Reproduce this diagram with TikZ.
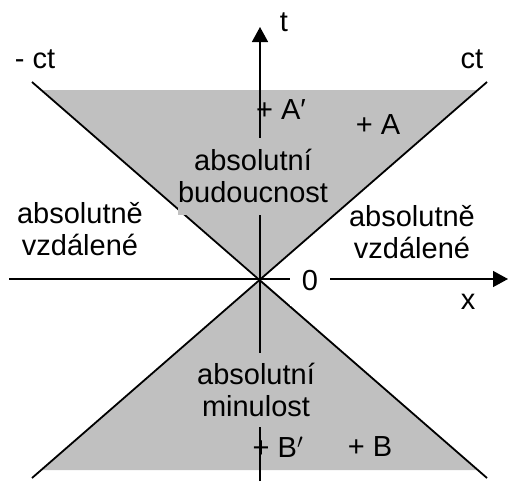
\documentclass[tikz,border=0pt]{standalone}
\usepackage{fontspec}
\setmainfont{Liberation Sans}
\usetikzlibrary{arrows.meta,calc}
\definecolor{conegray}{HTML}{C0C0C0}

\begin{document}
\begin{tikzpicture}[
  x=1pt, y=-1pt, >={Triangle[length=15pt,width=16pt]},
  every node/.style={font=\fontsize{29}{32}\selectfont, inner sep=0pt},
  axis/.style={line width=1.5pt},
  cone/.style={line width=1.8pt},
  region/.style={fill=conegray, align=center},
]
\useasboundingbox (0,0) rectangle (509,482);
% coordinates of the light cone
\coordinate (O) at (260,279);
\coordinate (ul) at (32,82);
\coordinate (ur) at (487,82);
\coordinate (ll) at (32,478);
\coordinate (lr) at (487,478);
\coordinate (ttop) at (260,27);
\coordinate (tbot) at (260,481);
\coordinate (xleft) at (9,279);
\coordinate (xright) at (508,279);
% shaded future and past
\fill[conegray] (O) -- ($(O)!0.959!(ul)$) -- ($(O)!0.959!(ur)$) -- cycle;
\fill[conegray] (O) -- ($(O)!0.96!(ll)$) -- ($(O)!0.96!(lr)$) -- cycle;
\draw[cone] (ul) -- (lr);
\draw[cone] (ur) -- (ll);
\draw[axis, ->] (tbot) -- (ttop);
\draw[axis, ->] (xleft) -- (xright);
% labels
\node (tlabel) at (284,22) {t};
\node (ctleft) at (35,59) {- ct};
\node (ctright) at (472,59) {ct};
\node (Aprime) at (281,110) {+ A′};
\node (Apt) at (378,125) {+ A};
\node[region, minimum width=151pt, minimum height=77pt] (future) at (253,176) {absolutní\\budoucnost};
\node[align=center] (farleft) at (80,229) {absolutně\\vzdálené};
\node[align=center] (farright) at (412,232) {absolutně\\vzdálené};
\node[fill=white, minimum width=40pt, minimum height=50pt] (zero) at (310,281) {0};
\node (xlabel) at (468,302) {x};
\node[region, minimum width=153pt, minimum height=74pt] (past) at (256,390) {absolutní\\minulost};
\node (Bprime) at (278,447) {+ B$^{\prime}$};
\node (Bpt) at (370,447) {+ B};
\end{tikzpicture}
\end{document}
